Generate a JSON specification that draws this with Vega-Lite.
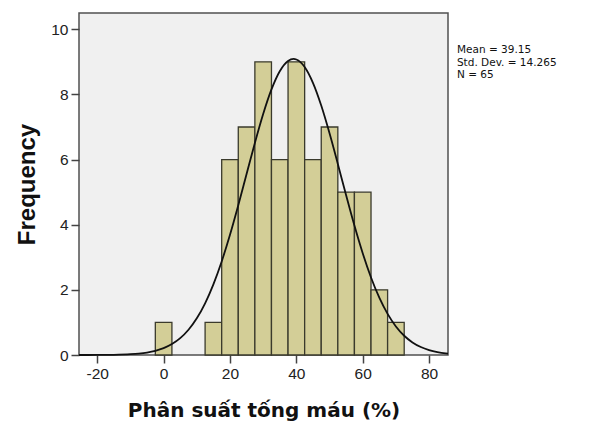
{
  "$schema": "https://vega.github.io/schema/vega-lite/v6.json",
  "width": 369,
  "height": 342,
  "autosize": {"type": "none"},
  "padding": {"left": 79, "top": 13, "right": 142, "bottom": 79},
  "background": "white",
  "config": {
    "view": {"fill": "#F0F0F0", "stroke": "#505050", "strokeWidth": 1.5},
    "font": "Liberation Sans"
  },
  "datasets": {
    "bins": [
      {"bin_start": -2.5, "bin_end": 2.5, "count": 1},
      {"bin_start": 12.5, "bin_end": 17.5, "count": 1},
      {"bin_start": 17.5, "bin_end": 22.5, "count": 6},
      {"bin_start": 22.5, "bin_end": 27.5, "count": 7},
      {"bin_start": 27.5, "bin_end": 32.5, "count": 9},
      {"bin_start": 32.5, "bin_end": 37.5, "count": 6},
      {"bin_start": 37.5, "bin_end": 42.5, "count": 9},
      {"bin_start": 42.5, "bin_end": 47.5, "count": 6},
      {"bin_start": 47.5, "bin_end": 52.5, "count": 7},
      {"bin_start": 52.5, "bin_end": 57.5, "count": 5},
      {"bin_start": 57.5, "bin_end": 62.5, "count": 5},
      {"bin_start": 62.5, "bin_end": 67.5, "count": 2},
      {"bin_start": 67.5, "bin_end": 72.5, "count": 1}
    ],
    "curve": [
      {"x": -25.5, "y": 0.0003},
      {"x": -20, "y": 0.0017},
      {"x": -15, "y": 0.0067},
      {"x": -10, "y": 0.024},
      {"x": -7.5, "y": 0.043},
      {"x": -5, "y": 0.0756},
      {"x": -2.5, "y": 0.128},
      {"x": 0, "y": 0.21},
      {"x": 2.5, "y": 0.335},
      {"x": 5, "y": 0.517},
      {"x": 7.5, "y": 0.775},
      {"x": 10, "y": 1.126},
      {"x": 12.5, "y": 1.587},
      {"x": 15, "y": 2.169},
      {"x": 17.5, "y": 2.873},
      {"x": 20, "y": 3.691},
      {"x": 22.5, "y": 4.599},
      {"x": 25, "y": 5.557},
      {"x": 27.5, "y": 6.511},
      {"x": 30, "y": 7.398},
      {"x": 32.5, "y": 8.153},
      {"x": 35, "y": 8.713},
      {"x": 37.5, "y": 9.028},
      {"x": 39.15, "y": 9.089},
      {"x": 40, "y": 9.073},
      {"x": 42.5, "y": 8.842},
      {"x": 45, "y": 8.356},
      {"x": 47.5, "y": 7.658},
      {"x": 50, "y": 6.806},
      {"x": 52.5, "y": 5.866},
      {"x": 55, "y": 4.903},
      {"x": 57.5, "y": 3.973},
      {"x": 60, "y": 3.123},
      {"x": 62.5, "y": 2.38},
      {"x": 65, "y": 1.76},
      {"x": 67.5, "y": 1.262},
      {"x": 70, "y": 0.877},
      {"x": 72.5, "y": 0.591},
      {"x": 75, "y": 0.386},
      {"x": 77.5, "y": 0.245},
      {"x": 80, "y": 0.151},
      {"x": 82.5, "y": 0.0898},
      {"x": 85, "y": 0.0519},
      {"x": 85.7, "y": 0.045}
    ],
    "stats": [
      {"label": "Mean = 39.15", "x": 88.4, "y": 9.35},
      {"label": "Std. Dev. = 14.265", "x": 88.4, "y": 8.98},
      {"label": "N = 65", "x": 88.4, "y": 8.61}
    ]
  },
  "layer": [
    {
      "data": {"name": "bins"},
      "mark": {"type": "rect", "fill": "#D3CE97", "stroke": "#3a3a2c", "strokeWidth": 1.3},
      "encoding": {
        "x": {
          "field": "bin_start", "type": "quantitative",
          "scale": {"domain": [-25.5, 85.7], "nice": false, "zero": false},
          "axis": {
            "values": [-20, 0, 20, 40, 60, 80],
            "labelExpr": "replace(datum.label, '−', '-')",
            "title": "Phân suất tống máu (%)",
            "titleFont": "DejaVu Sans", "titleFontSize": 20, "titleFontWeight": "bold",
            "titleColor": "#111", "titlePadding": 19,
            "labelFontSize": 15.5, "labelColor": "#222", "labelPadding": 3,
            "tickSize": 8, "tickWidth": 1.5, "tickColor": "#444",
            "domain": false, "grid": false
          }
        },
        "x2": {"field": "bin_end"},
        "y": {
          "field": "count", "type": "quantitative",
          "scale": {"domain": [0, 10.5], "nice": false},
          "axis": {
            "values": [0, 2, 4, 6, 8, 10],
            "title": "Frequency",
            "titleFont": "Liberation Sans", "titleFontSize": 24, "titleFontWeight": "bold",
            "titleColor": "#111", "titlePadding": 11,
            "labelFontSize": 15.5, "labelColor": "#222", "labelPadding": 3,
            "tickSize": 8, "tickWidth": 1.5, "tickColor": "#444",
            "domain": false, "grid": false
          }
        },
        "y2": {"datum": 0}
      }
    },
    {
      "data": {"name": "curve"},
      "mark": {"type": "line", "color": "#111", "strokeWidth": 1.8, "interpolate": "monotone"},
      "encoding": {
        "x": {"field": "x", "type": "quantitative"},
        "y": {"field": "y", "type": "quantitative"}
      }
    },
    {
      "data": {"name": "stats"},
      "mark": {"type": "text", "align": "left", "baseline": "middle", "font": "DejaVu Sans", "fontSize": 10.5, "color": "#111", "clip": false},
      "encoding": {
        "x": {"field": "x", "type": "quantitative"},
        "y": {"field": "y", "type": "quantitative"},
        "text": {"field": "label"}
      }
    }
  ]
}
